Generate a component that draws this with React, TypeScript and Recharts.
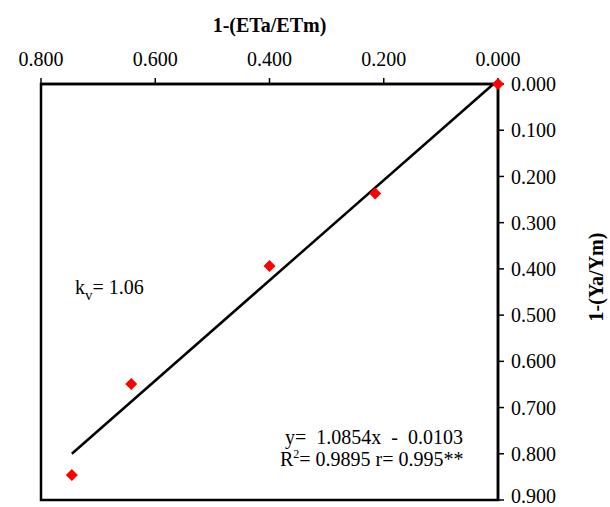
import React from 'react';
import {
  ScatterChart,
  Scatter,
  XAxis,
  YAxis,
  ReferenceArea,
  Customized,
} from 'recharts';

// 1-(ETa/ETm) vs 1-(Ya/Ym)
const etLoss = [0, 0.215, 0.4, 0.642, 0.746];
const yieldLoss = [0, 0.237, 0.394, 0.649, 0.846];

// fitted line end points
const trendEt = [0.008, 0.746];
const trendYield = [0, 0.8];

const xTicks = [0, 0.2, 0.4, 0.6, 0.8];
const yTicks = [0, 0.1, 0.2, 0.3, 0.4, 0.5, 0.6, 0.7, 0.8, 0.9];

const points = etLoss.map((x, i) => ({ x, y: yieldLoss[i] }));
const trend = trendEt.map((x, i) => ({ x, y: trendYield[i] }));

const FONT = '"Liberation Serif", "Times New Roman", serif';

const Diamond = (props: any) => {
  const { cx, cy } = props;
  const r = 6;
  return (
    <polygon
      points={`${cx},${cy - r} ${cx + r},${cy} ${cx},${cy + r} ${cx - r},${cy}`}
      fill="#ff0000"
    />
  );
};

const NoShape = () => <g />;

const YTitle = (props: any) => {
  const { viewBox } = props;
  const x = viewBox.x + viewBox.width - 7;
  const y = viewBox.y + viewBox.height / 2 - 15;
  return (
    <text
      x={x}
      y={y}
      transform={`rotate(-90, ${x}, ${y})`}
      textAnchor="middle"
      fontFamily={FONT}
      fontSize={20}
      fontWeight="bold"
      fill="#000"
    >
      1-(Ya/Ym)
    </text>
  );
};

const Notes = () => (
  <g fontFamily={FONT} fontSize={20} fill="#000">
    <text x={75} y={294}>
      k<tspan dy={6} fontSize={15}>v</tspan>
      <tspan dy={-6}>= 1.06</tspan>
    </text>
    <text x={285} y={444} style={{ whiteSpace: 'pre' }}>
      {'y=  1.0854x  -  0.0103'}
    </text>
    <text x={280} y={466}>
      R<tspan dy={-8} fontSize={12}>2</tspan>
      <tspan dy={8}>= 0.9895 r= 0.995**</tspan>
    </text>
  </g>
);

export default function App() {
  const tick = { fill: '#000', fontSize: 20, fontFamily: FONT };
  return (
    <div style={{ position: 'absolute', left: 0, top: 0, background: '#fff' }}>
      <ScatterChart
        width={610}
        height={507}
        margin={{ top: 0, right: 0, bottom: 7, left: 41 }}
      >
        <XAxis
          type="number"
          dataKey="x"
          orientation="top"
          reversed
          domain={[0, 0.8]}
          ticks={xTicks}
          tickFormatter={(v: number) => v.toFixed(3)}
          tick={tick}
          tickSize={6}
          tickMargin={12}
          height={84}
          axisLine={{ stroke: '#000', strokeWidth: 2.5 }}
          tickLine={{ stroke: '#000', strokeWidth: 1.5 }}
          label={{
            value: '1-(ETa/ETm)',
            position: 'insideTop',
            offset: 18,
            fontFamily: FONT,
            fontSize: 20,
            fontWeight: 'bold',
            fill: '#000',
          }}
        />
        <YAxis
          type="number"
          dataKey="y"
          orientation="right"
          reversed
          domain={[0, 0.9]}
          ticks={yTicks}
          tickFormatter={(v: number) => v.toFixed(3)}
          tick={tick}
          tickSize={6}
          tickMargin={7}
          width={112}
          axisLine={{ stroke: '#000', strokeWidth: 2.5 }}
          tickLine={{ stroke: '#000', strokeWidth: 1.5 }}
          label={{ content: YTitle }}
        />
        <ReferenceArea
          x1={0}
          x2={0.8}
          y1={0}
          y2={0.9}
          fill="none"
          stroke="#000"
          strokeWidth={2.5}
          ifOverflow="extendDomain"
        />
        <Scatter
          data={trend}
          line={{ stroke: '#000', strokeWidth: 2.5 }}
          shape={NoShape}
          isAnimationActive={false}
        />
        <Scatter data={points} shape={Diamond} isAnimationActive={false} />
        <Customized component={Notes} />
      </ScatterChart>
    </div>
  );
}
